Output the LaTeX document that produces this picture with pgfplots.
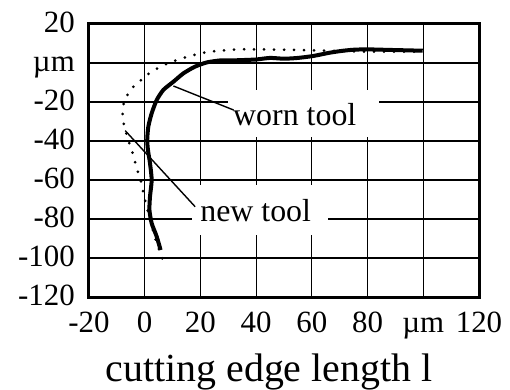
\documentclass[border=0pt]{standalone}
\usepackage{fontspec}
\setmainfont{Liberation Serif}
\usepackage{pgfplots}
\pgfplotsset{compat=1.18}

\begin{document}
\begin{tikzpicture}
\begin{axis}[
  name=ax,
  scale only axis,
  width=390bp, height=273bp,
  xmin=-20, xmax=120, ymin=-120, ymax=20,
  xtick={-20,0,20,40,60,80,100,120},
  ytick={-120,-100,-80,-60,-40,-20,0,20},
  xticklabels={-20,0,20,40,60,80,µm,120},
  yticklabels={-120,-100,-80,-60,-40,-20,µm,20},
  major tick length=0pt,
  grid=major,
  major grid style={black, line width=1.2bp},
  axis line style={line width=3bp},
  tick label style={font=\fontsize{31}{36}\selectfont, inner sep=0pt},
  xticklabel style={anchor=base, yshift=-35bp},
  yticklabel style={anchor=base east, xshift=-14bp, yshift=-8.5bp},
  xlabel={cutting edge length l},
  xlabel style={font=\fontsize{40}{48}\selectfont, at={(axis description cs:0.4615,-0.311)}, anchor=base, inner sep=0pt},
]
% white patches behind the annotations
\fill[white] (axis cs:29.9,-13.8) rectangle (axis cs:84.1,-37.9);
\fill[white] (axis cs:17,-62.6) rectangle (axis cs:65.8,-88.2);

% new tool (dotted)
\addplot[black, line width=3bp, line cap=round, dash pattern=on 0bp off 10bp, smooth, tension=0.4] coordinates {
  (6.3,-100.2) (4.5,-93) (3,-86) (1.5,-78) (0.1,-70.2) (-0.7,-65) (-1.4,-60.3)
  (-2.6,-55.2) (-3.5,-50.6) (-4.7,-44.6) (-5.9,-39.5) (-7.7,-30) (-7.9,-25)
  (-7.4,-19.8) (-5.9,-15.6) (-3.5,-11.3) (-0.5,-7.9) (2.5,-4.4) (9.1,0.3)
  (16.3,3.6) (23.4,5.8) (34.2,7) (45,6.9) (55,6.7) (62,6.4) (70,6.2)
  (80,5.8) (90,5.8) (100,5.9)
};

% worn tool (solid)
\addplot[black, line width=4bp, line join=round, smooth, tension=0.4] coordinates {
  (5.7,-95.9) (4.3,-89) (2.5,-82.2) (1.7,-75.4) (1.9,-68.5) (2.5,-60)
  (1.9,-51.4) (1.2,-45) (0.9,-39.5) (1.3,-32.6) (2.5,-25.8) (4.3,-19)
  (6.7,-13.8) (10.3,-9.6) (13.9,-5.3) (18,-1.9) (22.3,0.3) (27,1.3)
  (30.6,1.3) (35,1.5) (40,1.8) (45,2.6) (50,2.2) (55,2.6) (60.5,3.6)
  (66.5,5.3) (71.3,6.3) (75,6.8) (79.7,7) (88,6.7) (99.8,6.3)
};

\node[anchor=base west, inner sep=0pt, font=\fontsize{32}{38}\selectfont] at (axis cs:31.7,-31.8) {worn tool};
\node[anchor=base west, inner sep=0pt, font=\fontsize{32}{38}\selectfont] at (axis cs:19.9,-81.4) {new tool};
\draw[black, line width=1.4bp] (axis cs:10.3,-11.8) -- (axis cs:31.9,-24.1);
\draw[black, line width=1.4bp] (axis cs:-7,-34.7) -- (axis cs:18.1,-73.7);
\end{axis}
\pgfresetboundingbox
\path[use as bounding box] ([shift={(-89bp,-93bp)}]ax.south west) rectangle ([shift={(421bp,297bp)}]ax.south west);
\end{tikzpicture}
\end{document}
